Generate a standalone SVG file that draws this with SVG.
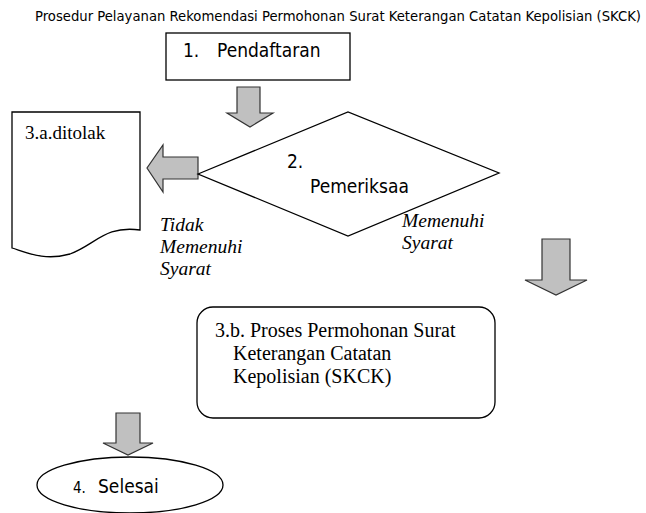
<svg xmlns="http://www.w3.org/2000/svg" width="646" height="513" viewBox="0 0 646 513">
<defs>
<style>
.ln{fill:#fff;stroke:#000;stroke-width:1.3}
.ar{fill:#c0c0c0;stroke:#333;stroke-width:1.2}
.sans{font-family:"DejaVu Sans Condensed","DejaVu Sans",sans-serif;fill:#000}
.serif{font-family:"Liberation Serif","Times New Roman",serif;fill:#000}
.it{font-family:"Liberation Serif","Times New Roman",serif;font-style:italic;fill:#000}
</style>
</defs>
<text class="sans" x="35" y="21" font-size="14" textLength="606" lengthAdjust="spacingAndGlyphs">Prosedur Pelayanan Rekomendasi Permohonan Surat Keterangan Catatan Kepolisian (SKCK)</text>
<g id="connectors">
<polygon class="ar" points="237,87 260,87 260,113 273,113 250,127 227,113 237,113"/>
<polygon class="ar" points="198,157 198,179 163,179 163,192 147,168 163,145 163,157"/>
<polygon class="ar" points="542,239 570,239 570,280 587,280 556,295 525,280 542,280"/>
<polygon class="ar" points="116,413 140,413 140,443 153,443 128,455 103,443 116,443"/>
</g>
<g id="n1">
<rect class="ln" x="166" y="33" width="184" height="47"/>
<text class="sans" x="183" y="57" font-size="19">1.</text>
<text class="sans" x="217" y="57" font-size="19">Pendaftaran</text>
</g>
<g id="n2">
<polygon class="ln" points="198,174 348,112 499,173 348,236"/>
<text class="sans" x="287" y="168" font-size="19">2.</text>
<text class="sans" x="310" y="193" font-size="19">Pemeriksaa</text>
</g>
<g id="n3a">
<path class="ln" d="M12,112 H140 V230 C105,225 95,245 70,254 C45,261 28,253 12,248 Z"/>
<text class="serif" x="25" y="139" font-size="19">3.a.ditolak</text>
</g>
<g id="lbl-tidak">
<text class="it" x="160" y="231" font-size="19.5">Tidak</text>
<text class="it" x="160" y="253" font-size="19.5">Memenuhi</text>
<text class="it" x="160" y="275" font-size="19.5">Syarat</text>
</g>
<g id="lbl-memenuhi">
<text class="it" x="402" y="227" font-size="19.5">Memenuhi</text>
<text class="it" x="402" y="249" font-size="19.5">Syarat</text>
</g>
<g id="n3b">
<rect class="ln" x="197" y="307" width="298" height="111" rx="16"/>
<text class="serif" font-size="20"><tspan x="215" y="337">3.b. Proses Permohonan Surat</tspan><tspan x="233" y="360">Keterangan Catatan</tspan><tspan x="233" y="383">Kepolisian (SKCK)</tspan></text>
</g>
<g id="n4">
<ellipse class="ln" cx="130" cy="485" rx="93" ry="28"/>
<text class="sans" x="73" y="493" font-size="15">4.</text>
<text class="sans" x="98" y="493" font-size="19">Selesai</text>
</g>
</svg>
